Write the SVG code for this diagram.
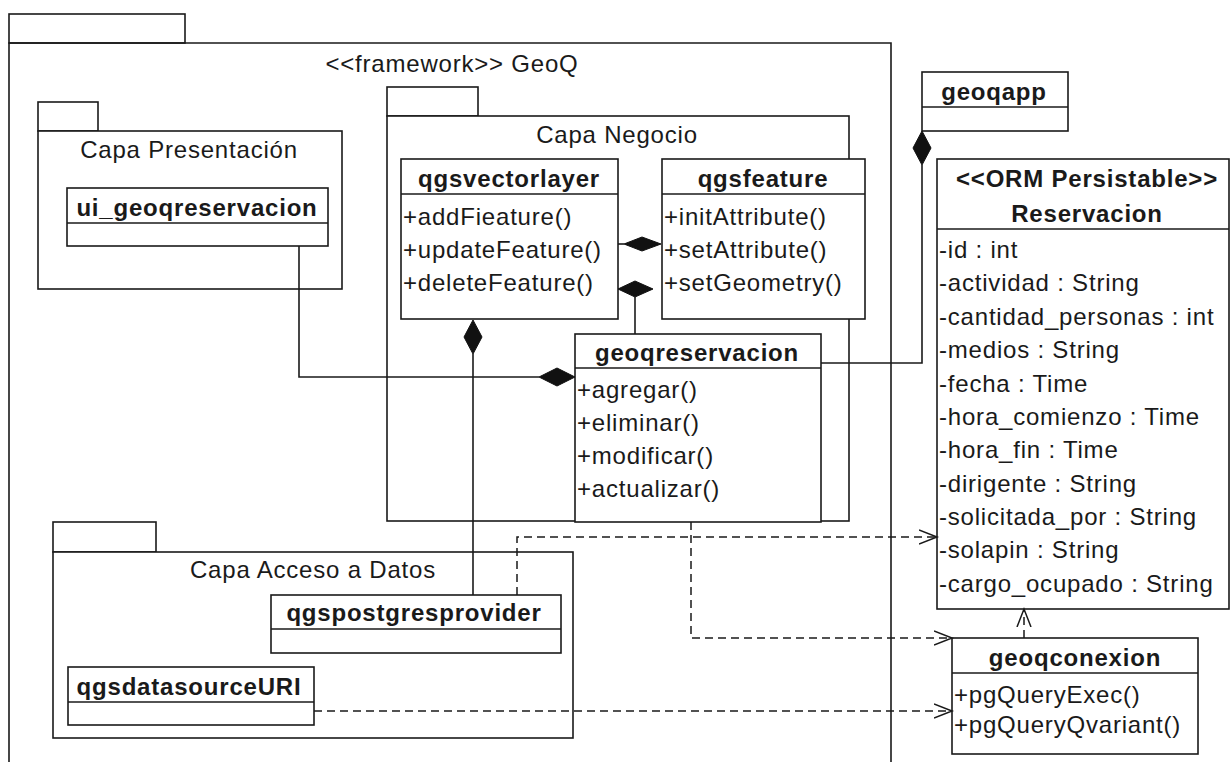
<svg xmlns="http://www.w3.org/2000/svg" width="1231" height="762" viewBox="0 0 1231 762">
<style>
.ln{fill:none;stroke:#1a1a1a;stroke-width:1.6}
.box{fill:#ffffff;stroke:#1a1a1a;stroke-width:1.6}
.dash{fill:none;stroke:#1a1a1a;stroke-width:1.5;stroke-dasharray:8 5}
.dia{fill:#111111;stroke:#111111;stroke-width:1}
text{font-family:"Liberation Sans",Arial,sans-serif;font-size:24px;letter-spacing:0.8px;fill:#1a1a1a}
.b{font-weight:bold}
.c{text-anchor:middle}
</style>
<defs>
<marker id="open" markerUnits="userSpaceOnUse" markerWidth="22" markerHeight="18" refX="18" refY="8" orient="auto">
<path d="M0,1 L18,8 L0,15" fill="none" stroke="#1a1a1a" stroke-width="1.5"/>
</marker>
</defs>
<rect width="1231" height="762" fill="#ffffff"/>

<g id="framework">
<rect class="box" x="9" y="14" width="176" height="29"/>
<path class="ln" d="M9,775 V43 H891 V775"/>
<text class="c" x="452" y="72">&lt;&lt;framework&gt;&gt; GeoQ</text>
</g>

<g id="capa-presentacion">
<rect class="box" x="38" y="102" width="60" height="29"/>
<rect class="box" x="38" y="131" width="304" height="158"/>
<text class="c" x="189" y="158">Capa Presentación</text>
</g>

<g id="capa-negocio">
<rect class="box" x="387" y="87" width="91" height="29"/>
<rect class="box" x="387" y="116" width="462" height="405"/>
<text class="c" x="617" y="143">Capa Negocio</text>
</g>

<g id="capa-acceso">
<rect class="box" x="53" y="522" width="103" height="30"/>
<rect class="box" x="53" y="552" width="520" height="186"/>
<text class="c" x="313" y="578">Capa Acceso a Datos</text>
</g>

<g id="ui_geoqreservacion">
<rect class="box" x="67" y="188" width="261" height="58"/>
<line class="ln" x1="67" y1="223" x2="328" y2="223"/>
<text class="b c" x="197" y="216">ui_geoqreservacion</text>
</g>

<g id="qgsvectorlayer">
<rect class="box" x="401" y="159" width="217" height="160"/>
<line class="ln" x1="401" y1="194" x2="618" y2="194"/>
<text class="b c" x="509" y="187">qgsvectorlayer</text>
<text x="403" y="225">+addFieature()</text>
<text x="403" y="258">+updateFeature()</text>
<text x="403" y="291">+deleteFeature()</text>
</g>

<g id="qgsfeature">
<rect class="box" x="662" y="159" width="203" height="160"/>
<line class="ln" x1="662" y1="194" x2="865" y2="194"/>
<text class="b c" x="763" y="187">qgsfeature</text>
<text x="664" y="225">+initAttribute()</text>
<text x="664" y="258">+setAttribute()</text>
<text x="664" y="291">+setGeometry()</text>
</g>

<g id="geoqreservacion">
<rect class="box" x="575" y="334" width="246" height="188"/>
<line class="ln" x1="575" y1="368" x2="821" y2="368"/>
<text class="b c" x="697" y="361">geoqreservacion</text>
<text x="577" y="398">+agregar()</text>
<text x="577" y="431">+eliminar()</text>
<text x="577" y="464">+modificar()</text>
<text x="577" y="497">+actualizar()</text>
</g>

<g id="qgspostgresprovider">
<rect class="box" x="271" y="595" width="290" height="58"/>
<line class="ln" x1="271" y1="629" x2="561" y2="629"/>
<text class="b c" x="414" y="621">qgspostgresprovider</text>
</g>

<g id="qgsdatasourceURI">
<rect class="box" x="68" y="667" width="246" height="58"/>
<line class="ln" x1="68" y1="702" x2="314" y2="702"/>
<text class="b c" x="189" y="695">qgsdatasourceURI</text>
</g>

<g id="geoqapp">
<rect class="box" x="922" y="72" width="146" height="59"/>
<line class="ln" x1="922" y1="107" x2="1068" y2="107"/>
<text class="b c" x="994" y="100">geoqapp</text>
</g>

<g id="Reservacion">
<rect class="box" x="937" y="159" width="292" height="450"/>
<line class="ln" x1="937" y1="229" x2="1229" y2="229"/>
<text class="b c" x="1087" y="187">&lt;&lt;ORM Persistable&gt;&gt;</text>
<text class="b c" x="1087" y="222">Reservacion</text>
<text x="939" y="258">-id : int</text>
<text x="939" y="291">-actividad : String</text>
<text x="939" y="325">-cantidad_personas : int</text>
<text x="939" y="358">-medios : String</text>
<text x="939" y="392">-fecha : Time</text>
<text x="939" y="425">-hora_comienzo : Time</text>
<text x="939" y="458">-hora_fin : Time</text>
<text x="939" y="492">-dirigente : String</text>
<text x="939" y="525">-solicitada_por : String</text>
<text x="939" y="558">-solapin : String</text>
<text x="939" y="592">-cargo_ocupado : String</text>
</g>

<g id="geoqconexion">
<rect class="box" x="952" y="638" width="246" height="116"/>
<line class="ln" x1="952" y1="673" x2="1198" y2="673"/>
<text class="b c" x="1075" y="666">geoqconexion</text>
<text x="954" y="703">+pgQueryExec()</text>
<text x="954" y="733">+pgQueryQvariant()</text>
</g>

<g id="connectors">
<line class="ln" x1="618" y1="244" x2="624" y2="244"/>
<polygon class="dia" points="624,244 642,237 661,244 642,251"/>
<polygon class="dia" points="618,289 635,281 653,289 635,297"/>
<line class="ln" x1="635" y1="297" x2="635" y2="334"/>
<polygon class="dia" points="473,320 482,337 473,354 464,337"/>
<line class="ln" x1="473" y1="354" x2="473" y2="595"/>
<polyline class="ln" points="299,246 299,377 539,377"/>
<polygon class="dia" points="575,377 557,368 539,377 557,386"/>
<polygon class="dia" points="922,131 931,148 922,165 913,148"/>
<polyline class="ln" points="922,165 922,363 821,363"/>
<polyline class="dash" points="517,595 517,537 937,537" marker-end="url(#open)"/>
<polyline class="dash" points="691,522 691,638 952,638" marker-end="url(#open)"/>
<polyline class="dash" points="314,711 952,711" marker-end="url(#open)"/>
<polyline class="dash" points="1024,638 1024,609" marker-end="url(#open)"/>
</g>
</svg>
